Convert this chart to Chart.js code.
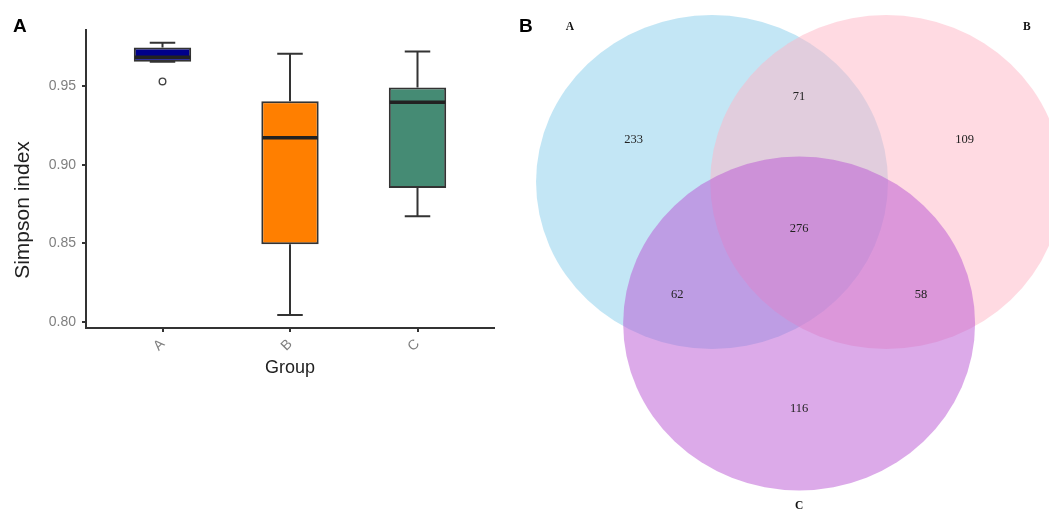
<!DOCTYPE html>
<html>
<head>
<meta charset="utf-8">
<script src="https://cdn.jsdelivr.net/npm/chart.js@4"></script>
<style>
  body { margin: 0; background: #fff; }
  #wrap { position: relative; width: 1049px; height: 511px; overflow: hidden; }
  canvas { position: absolute; }
  #box-chart { left: 0; top: 0; }
  #venn-chart { left: 510px; top: 0; }
  .panel { position: absolute; font: bold 19px "Liberation Sans", Arial, sans-serif; line-height: 19px; color: #000; }
</style>
</head>
<body>
<div id="wrap">
  <canvas id="box-chart" width="510" height="380"></canvas>
  <canvas id="venn-chart" width="539" height="511"></canvas>
  <div class="panel" style="left:13px; top:16px;">A</div>
  <div class="panel" style="left:519px; top:16px;">B</div>
</div>
<script>
// boxplot data (Simpson index per group)
const groups = ['A', 'B', 'C'];
const whiskerLow = [0.9657, 0.8043, 0.8672];
const q1 = [0.9657, 0.8494, 0.8852];
const median = [0.9687, 0.9173, 0.9400];
const q3 = [0.9748, 0.9406, 0.9494];
const whiskerHigh = [0.9778, 0.9708, 0.9723];
const outlierGroup = ['A'];
const outlierValue = [0.9532];
const yTicks = [0.80, 0.85, 0.90, 0.95];
const yTitle = 'Simpson index';
const boxColors = ['#00008b', '#ff7f00', '#458b74'];

// venn data
const vennSets = ['A', 'B', 'C'];
const regionKeys = ['A', 'B', 'C', 'AB', 'AC', 'BC', 'ABC'];
const regionCounts = [233, 109, 116, 71, 62, 58, 276];
const vennColors = ['rgba(135,206,235,0.5)', 'rgba(255,181,197,0.5)', 'rgba(186,85,211,0.5)'];

// venn layout (circle radius 1, in diagram units)
const circleX = [0, 0.99, 0.495];
const circleY = [0, 0, -0.847];
const catOffset = [[-0.807, 0.928], [0.799, 0.928], [0, -1.093]];

const boxW = 0.45;
const capW = 0.2;
const lineCol = '#333';
const sans = '"Liberation Sans", Arial, sans-serif';

// whiskers behind the boxes, medians on top
const boxParts = {
    id: 'boxParts',
    beforeDatasetsDraw(chart) {
        const { ctx, scales: { x, y } } = chart;
        ctx.save();
        ctx.strokeStyle = lineCol;
        ctx.lineWidth = 2;
        groups.forEach((g, i) => {
            const px = x.getPixelForValue(i + 1);
            const h = x.getPixelForValue(i + 1 + capW / 2) - px;
            ctx.beginPath();
            ctx.moveTo(px, y.getPixelForValue(whiskerHigh[i]));
            ctx.lineTo(px, y.getPixelForValue(q3[i]));
            ctx.moveTo(px, y.getPixelForValue(q1[i]));
            ctx.lineTo(px, y.getPixelForValue(whiskerLow[i]));
            ctx.moveTo(px - h, y.getPixelForValue(whiskerHigh[i]));
            ctx.lineTo(px + h, y.getPixelForValue(whiskerHigh[i]));
            ctx.moveTo(px - h, y.getPixelForValue(whiskerLow[i]));
            ctx.lineTo(px + h, y.getPixelForValue(whiskerLow[i]));
            ctx.stroke();
        });
        ctx.restore();
    },
    afterDatasetsDraw(chart) {
        const { ctx, scales: { x, y } } = chart;
        ctx.save();
        ctx.strokeStyle = '#222';
        ctx.lineWidth = 3.5;
        groups.forEach((g, i) => {
            const l = x.getPixelForValue(i + 1 - boxW / 2);
            const r = x.getPixelForValue(i + 1 + boxW / 2);
            const py = y.getPixelForValue(median[i]);
            ctx.beginPath();
            ctx.moveTo(l + 1, py);
            ctx.lineTo(r - 1, py);
            ctx.stroke();
        });
        // y axis title, placed like the reference (a bit below the panel middle)
        ctx.translate(23, 210);
        ctx.rotate(-Math.PI / 2);
        ctx.textAlign = 'center';
        ctx.textBaseline = 'middle';
        ctx.fillStyle = '#222';
        ctx.font = '21px ' + sans;
        ctx.fillText(yTitle, 0, 0);
        ctx.restore();
    }
};

new Chart(document.getElementById('box-chart'), {
    type: 'bar',
    data: {
        datasets: [{
            type: 'scatter',
            data: outlierGroup.map((g, i) => ({ x: groups.indexOf(g) + 1, y: outlierValue[i] })),
            pointRadius: 3.3,
            pointBackgroundColor: '#fff',
            pointBorderColor: '#444',
            pointBorderWidth: 1.4
        }, {
            data: groups.map((g, i) => ({ x: i + 1, y: [q1[i], q3[i]] })),
            backgroundColor: boxColors,
            borderColor: lineCol,
            borderWidth: 2,
            borderSkipped: false,
            categoryPercentage: 1,
            barPercentage: boxW
        }]
    },
    options: {
        responsive: false,
        devicePixelRatio: 1,
        animation: false,
        layout: { padding: { left: 0, top: 30, right: 16, bottom: 0 } },
        plugins: { legend: { display: false }, tooltip: { enabled: false } },
        scales: {
            x: {
                type: 'linear',
                min: 0.4,
                max: 3.6,
                offset: false,
                afterBuildTicks: (axis) => { axis.ticks = groups.map((g, i) => ({ value: i + 1 })); },
                afterFit: (scale) => { scale.height = 52; },
                ticks: {
                    callback: (v) => groups[v - 1],
                    minRotation: 45,
                    maxRotation: 45,
                    autoSkip: false,
                    padding: 4,
                    color: '#7f7f7f',
                    font: { family: sans, size: 14 }
                },
                grid: { offset: false, drawOnChartArea: false, drawTicks: true, tickLength: 4, color: lineCol, lineWidth: 2 },
                border: { color: lineCol, width: 2 },
                title: {
                    display: true,
                    text: 'Group',
                    color: '#222',
                    padding: { top: 0, bottom: 1 },
                    font: { family: sans, size: 18 }
                }
            },
            y: {
                min: 0.796,
                max: 0.986,
                afterBuildTicks: (axis) => { axis.ticks = yTicks.map(v => ({ value: v })); },
                afterFit: (scale) => { scale.width = 86; },
                ticks: {
                    callback: (v) => v.toFixed(2),
                    padding: 6,
                    color: '#7f7f7f',
                    font: { family: sans, size: 14 }
                },
                grid: { drawOnChartArea: false, drawTicks: true, tickLength: 4, color: lineCol, lineWidth: 2 },
                border: { color: lineCol, width: 2 }
            }
        }
    },
    plugins: [boxParts]
});

// venn circles and labels drawn on the scatter scales
const vennParts = {
    id: 'vennParts',
    beforeDatasetsDraw(chart) {
        const { ctx, scales: { x, y } } = chart;
        ctx.save();
        vennSets.forEach((s, i) => {
            const cx = x.getPixelForValue(circleX[i]);
            const cy = y.getPixelForValue(circleY[i]);
            const rx = x.getPixelForValue(circleX[i] + 1) - cx;
            const ry = cy - y.getPixelForValue(circleY[i] + 1);
            ctx.beginPath();
            ctx.ellipse(cx, cy, rx, ry, 0, 0, Math.PI * 2);
            ctx.fillStyle = vennColors[i];
            ctx.fill();
        });
        ctx.restore();
    },
    afterDatasetsDraw(chart) {
        const { ctx, scales: { x, y } } = chart;
        const mx = circleX.reduce((a, b) => a + b) / 3;
        const my = circleY.reduce((a, b) => a + b) / 3;
        ctx.save();
        ctx.textAlign = 'center';
        ctx.textBaseline = 'middle';
        ctx.fillStyle = '#222';
        ctx.font = '12.5px "Liberation Serif", "DejaVu Serif", serif';
        regionKeys.forEach((k, j) => {
            const idx = k.split('').map(c => vennSets.indexOf(c));
            const ax = idx.reduce((a, i) => a + circleX[i], 0) / idx.length;
            const ay = idx.reduce((a, i) => a + circleY[i], 0) / idx.length;
            const f = idx.length === 1 ? 1.9 : idx.length === 2 ? 2.8 : 1;
            const vx = mx + (ax - mx) * f;
            const vy = my + (ay - my) * f;
            ctx.fillText(String(regionCounts[j]), x.getPixelForValue(vx), y.getPixelForValue(vy));
        });
        ctx.font = 'bold 11.5px "Liberation Serif", "DejaVu Serif", serif';
        ctx.fillStyle = '#111';
        vennSets.forEach((s, i) => {
            ctx.fillText(s, x.getPixelForValue(circleX[i] + catOffset[i][0]), y.getPixelForValue(circleY[i] + catOffset[i][1]));
        });
        ctx.restore();
    }
};

new Chart(document.getElementById('venn-chart'), {
    type: 'scatter',
    data: {
        datasets: [{
            data: vennSets.map((s, i) => ({ x: circleX[i], y: circleY[i] })),
            pointRadius: 0
        }]
    },
    options: {
        responsive: false,
        devicePixelRatio: 1,
        animation: false,
        layout: { padding: 0 },
        plugins: { legend: { display: false }, tooltip: { enabled: false } },
        scales: {
            x: { type: 'linear', display: false, min: -1.148, max: 1.915 },
            y: { type: 'linear', display: false, min: -1.970, max: 1.090 }
        }
    },
    plugins: [vennParts]
});
</script>
</body>
</html>
